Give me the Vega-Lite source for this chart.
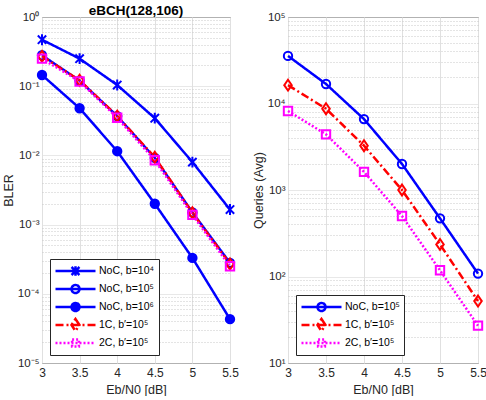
{
  "$schema": "https://vega.github.io/schema/vega-lite/v6.json",
  "background": "white",
  "padding": {"left": 1, "top": 3, "right": 6, "bottom": 0},
  "spacing": 12,
  "config": {
    "font": "Liberation Sans",
    "view": {"stroke": "#262626", "strokeWidth": 1},
    "axis": {
      "labelFont": "Liberation Sans", "labelFontSize": 12, "labelColor": "#262626",
      "titleFont": "Liberation Sans", "titleFontSize": 12.5, "titleFontWeight": "normal", "titleColor": "#262626",
      "ticks": false, "domain": false, "labelPadding": 4, "labelFlush": false, "labelOverlap": false,
      "gridColor": "#e0e0e0", "gridWidth": 1
    },
    "axisY": {"labelFontSize": 11.5, "labelPadding": 3, "titlePadding": 2},
    "legend": {
      "orient": "bottom-left", "offset": 8,
      "labelFont": "Liberation Sans", "labelFontSize": 10.5, "labelColor": "#000000",
      "strokeColor": "#262626", "fillColor": "white", "padding": 4, "rowPadding": 2,
      "symbolStrokeWidth": 2.5, "symbolSize": 1600, "clipHeight": 16, "labelLimit": 300,
      "labelOffset": 2
    },
    "title": {"font": "Liberation Sans", "fontSize": 13.5, "fontWeight": "bold", "color": "#000000", "offset": -6}
  },
  "datasets": {
    "bler": [
      {"snr": 3, "series": "NoC, b=10⁴", "bler": 0.47},
      {"snr": 3.5, "series": "NoC, b=10⁴", "bler": 0.25},
      {"snr": 4, "series": "NoC, b=10⁴", "bler": 0.104},
      {"snr": 4.5, "series": "NoC, b=10⁴", "bler": 0.0345},
      {"snr": 5, "series": "NoC, b=10⁴", "bler": 0.008},
      {"snr": 5.5, "series": "NoC, b=10⁴", "bler": 0.00165},
      {"snr": 3, "series": "NoC, b=10⁵", "bler": 0.28},
      {"snr": 3.5, "series": "NoC, b=10⁵", "bler": 0.12},
      {"snr": 4, "series": "NoC, b=10⁵", "bler": 0.037},
      {"snr": 4.5, "series": "NoC, b=10⁵", "bler": 0.0092},
      {"snr": 5, "series": "NoC, b=10⁵", "bler": 0.0015},
      {"snr": 5.5, "series": "NoC, b=10⁵", "bler": 0.00028},
      {"snr": 3, "series": "NoC, b=10⁶", "bler": 0.145},
      {"snr": 3.5, "series": "NoC, b=10⁶", "bler": 0.048},
      {"snr": 4, "series": "NoC, b=10⁶", "bler": 0.0115},
      {"snr": 4.5, "series": "NoC, b=10⁶", "bler": 0.002},
      {"snr": 5, "series": "NoC, b=10⁶", "bler": 0.00033},
      {"snr": 5.5, "series": "NoC, b=10⁶", "bler": 0.000043},
      {"snr": 3, "series": "1C, b′=10⁵", "bler": 0.27},
      {"snr": 3.5, "series": "1C, b′=10⁵", "bler": 0.122},
      {"snr": 4, "series": "1C, b′=10⁵", "bler": 0.037},
      {"snr": 4.5, "series": "1C, b′=10⁵", "bler": 0.0094},
      {"snr": 5, "series": "1C, b′=10⁵", "bler": 0.00148},
      {"snr": 5.5, "series": "1C, b′=10⁵", "bler": 0.00027},
      {"snr": 3, "series": "2C, b′=10⁵", "bler": 0.25},
      {"snr": 3.5, "series": "2C, b′=10⁵", "bler": 0.117},
      {"snr": 4, "series": "2C, b′=10⁵", "bler": 0.035},
      {"snr": 4.5, "series": "2C, b′=10⁵", "bler": 0.0085},
      {"snr": 5, "series": "2C, b′=10⁵", "bler": 0.00138},
      {"snr": 5.5, "series": "2C, b′=10⁵", "bler": 0.00025}
    ],
    "queries": [
      {"snr": 3, "series": "NoC, b=10⁵", "q": 35500},
      {"snr": 3.5, "series": "NoC, b=10⁵", "q": 16800},
      {"snr": 4, "series": "NoC, b=10⁵", "q": 6600},
      {"snr": 4.5, "series": "NoC, b=10⁵", "q": 2000},
      {"snr": 5, "series": "NoC, b=10⁵", "q": 470},
      {"snr": 5.5, "series": "NoC, b=10⁵", "q": 108},
      {"snr": 3, "series": "1C, b′=10⁵", "q": 16300},
      {"snr": 3.5, "series": "1C, b′=10⁵", "q": 8700},
      {"snr": 4, "series": "1C, b′=10⁵", "q": 3250},
      {"snr": 4.5, "series": "1C, b′=10⁵", "q": 1000},
      {"snr": 5, "series": "1C, b′=10⁵", "q": 235},
      {"snr": 5.5, "series": "1C, b′=10⁵", "q": 52},
      {"snr": 3, "series": "2C, b′=10⁵", "q": 8200},
      {"snr": 3.5, "series": "2C, b′=10⁵", "q": 4400},
      {"snr": 4, "series": "2C, b′=10⁵", "q": 1620},
      {"snr": 4.5, "series": "2C, b′=10⁵", "q": 500},
      {"snr": 5, "series": "2C, b′=10⁵", "q": 118},
      {"snr": 5.5, "series": "2C, b′=10⁵", "q": 27}
    ]
  },
  "resolve": {
    "scale": {"stroke": "independent", "shape": "independent", "fill": "independent", "strokeDash": "independent"},
    "legend": {"stroke": "independent", "shape": "independent", "fill": "independent", "strokeDash": "independent"}
  },
  "hconcat": [
    {
      "title": {"text": "eBCH(128,106)"},
      "width": 188,
      "height": 346,
      "data": {"name": "bler"},
      "encoding": {
        "x": {"field": "snr", "type": "quantitative",
          "scale": {"domain": [3, 5.5], "nice": false, "zero": false},
          "axis": {"values": [3, 3.5, 4, 4.5, 5, 5.5], "labelExpr": "'' + datum.value", "title": "Eb/N0 [dB]", "titlePadding": 5}},
        "y": {"field": "bler", "type": "quantitative",
          "scale": {"type": "log", "domain": [0.00001, 1], "nice": false},
          "axis": {
            "title": "BLER",
            "values": [0.00001,0.00002,0.00003,0.00004,0.00005,0.00006,0.00007,0.00008,0.00009,
                       0.0001,0.0002,0.0003,0.0004,0.0005,0.0006,0.0007,0.0008,0.0009,
                       0.001,0.002,0.003,0.004,0.005,0.006,0.007,0.008,0.009,
                       0.01,0.02,0.03,0.04,0.05,0.06,0.07,0.08,0.09,
                       0.1,0.2,0.3,0.4,0.5,0.6,0.7,0.8,0.9,1],
            "labelExpr": "abs(log(datum.value)/LN10 - round(log(datum.value)/LN10)) < 0.001 ? '10' + ['⁻⁵','⁻⁴','⁻³','⁻²','⁻¹','⁰'][round(log(datum.value)/LN10)+5] : ''",
            "gridDash": {"condition": {"test": "abs(log(datum.value)/LN10 - round(log(datum.value)/LN10)) < 0.001", "value": [1, 0]}, "value": [1, 2]},
            "gridColor": {"condition": {"test": "abs(log(datum.value)/LN10 - round(log(datum.value)/LN10)) < 0.001", "value": "#e0e0e0"}, "value": "#c8c8c8"}
          }}
      },
      "layer": [
        {
          "mark": {"type": "line", "strokeWidth": 2.5},
          "encoding": {
            "stroke": {"field": "series", "type": "nominal",
              "scale": {"domain": ["NoC, b=10⁴", "NoC, b=10⁵", "NoC, b=10⁶", "1C, b′=10⁵", "2C, b′=10⁵"],
                        "range": ["#0000ff", "#0000ff", "#0000ff", "#ff0000", "#ff00ff"]},
              "legend": {"title": null, "encode": {"symbols": {"update": {"shape": {"signal": "indexof(datum.value,'10⁴')>=0 ? 'M-1,0L1,0M-0.2,-0.2L0.2,0.2M-0.2,0.2L0.2,-0.2M0,-0.24L0,0.24' : indexof(datum.value,'1C')>=0 ? 'M-1,0L1,0M0,-0.3L0.2,0L0,0.3L-0.2,0Z' : indexof(datum.value,'2C')>=0 ? 'M-1,0L1,0M-0.17,-0.17L0.17,-0.17L0.17,0.17L-0.17,0.17Z' : 'M-1,0L1,0M-0.2,0A0.2,0.2 0 1,1 0.2,0A0.2,0.2 0 1,1 -0.2,0Z'"}}}}}},
            "strokeDash": {"field": "series", "type": "nominal",
              "scale": {"domain": ["NoC, b=10⁴", "NoC, b=10⁵", "NoC, b=10⁶", "1C, b′=10⁵", "2C, b′=10⁵"],
                        "range": [[1, 0], [1, 0], [1, 0], [8, 3, 2, 3], [2, 2]]},
              "legend": {"title": null}}
          }
        },
        {
          "mark": {"type": "point", "size": 70, "strokeWidth": 2, "opacity": 1, "filled": false},
          "encoding": {
            "stroke": {"field": "series", "type": "nominal", "legend": {"title": null}},
            "shape": {"field": "series", "type": "nominal",
              "scale": {"domain": ["2C, b′=10⁵", "1C, b′=10⁵", "NoC, b=10⁶", "NoC, b=10⁵", "NoC, b=10⁴"],
                        "range": ["square", "M0,-1.3L0.9,0L0,1.3L-0.9,0Z", "circle", "circle", "M-1,-1L1,1M-1,1L1,-1M0,-1.3L0,1.3"]},
              "legend": null},
            "fill": {"field": "series", "type": "nominal",
              "scale": {"domain": ["NoC, b=10⁴", "NoC, b=10⁵", "NoC, b=10⁶", "1C, b′=10⁵", "2C, b′=10⁵"],
                        "range": ["transparent", "transparent", "#0000ff", "transparent", "transparent"]},
              "legend": {"title": null}}
          }
        }
      ]
    },
    {
      "width": 190,
      "height": 346,
      "data": {"name": "queries"},
      "encoding": {
        "x": {"field": "snr", "type": "quantitative",
          "scale": {"domain": [3, 5.5], "nice": false, "zero": false},
          "axis": {"values": [3, 3.5, 4, 4.5, 5, 5.5], "labelExpr": "'' + datum.value", "title": "Eb/N0 [dB]", "titlePadding": 5}},
        "y": {"field": "q", "type": "quantitative",
          "scale": {"type": "log", "domain": [10, 100000], "nice": false},
          "axis": {
            "title": "Queries (Avg)",
            "values": [10,20,30,40,50,60,70,80,90,100,200,300,400,500,600,700,800,900,
                       1000,2000,3000,4000,5000,6000,7000,8000,9000,
                       10000,20000,30000,40000,50000,60000,70000,80000,90000,100000],
            "labelExpr": "abs(log(datum.value)/LN10 - round(log(datum.value)/LN10)) < 0.001 ? '10' + ['¹','²','³','⁴','⁵'][round(log(datum.value)/LN10)-1] : ''",
            "gridDash": {"condition": {"test": "abs(log(datum.value)/LN10 - round(log(datum.value)/LN10)) < 0.001", "value": [1, 0]}, "value": [1, 2]},
            "gridColor": {"condition": {"test": "abs(log(datum.value)/LN10 - round(log(datum.value)/LN10)) < 0.001", "value": "#e0e0e0"}, "value": "#c8c8c8"}
          }}
      },
      "layer": [
        {
          "mark": {"type": "line", "strokeWidth": 2.5},
          "encoding": {
            "stroke": {"field": "series", "type": "nominal",
              "scale": {"domain": ["NoC, b=10⁵", "1C, b′=10⁵", "2C, b′=10⁵"],
                        "range": ["#0000ff", "#ff0000", "#ff00ff"]},
              "legend": {"title": null, "encode": {"symbols": {"update": {"shape": {"signal": "indexof(datum.value,'1C')>=0 ? 'M-1,0L1,0M0,-0.3L0.2,0L0,0.3L-0.2,0Z' : indexof(datum.value,'2C')>=0 ? 'M-1,0L1,0M-0.17,-0.17L0.17,-0.17L0.17,0.17L-0.17,0.17Z' : 'M-1,0L1,0M-0.2,0A0.2,0.2 0 1,1 0.2,0A0.2,0.2 0 1,1 -0.2,0Z'"}}}}}},
            "strokeDash": {"field": "series", "type": "nominal",
              "scale": {"domain": ["NoC, b=10⁵", "1C, b′=10⁵", "2C, b′=10⁵"],
                        "range": [[1, 0], [8, 3, 2, 3], [2, 2]]},
              "legend": {"title": null}}
          }
        },
        {
          "mark": {"type": "point", "size": 70, "strokeWidth": 2, "opacity": 1, "filled": false},
          "encoding": {
            "stroke": {"field": "series", "type": "nominal", "legend": {"title": null}},
            "shape": {"field": "series", "type": "nominal",
              "scale": {"domain": ["2C, b′=10⁵", "1C, b′=10⁵", "NoC, b=10⁵"],
                        "range": ["square", "M0,-1.3L0.9,0L0,1.3L-0.9,0Z", "circle"]},
              "legend": null},
            "fill": {"field": "series", "type": "nominal",
              "scale": {"domain": ["NoC, b=10⁵", "1C, b′=10⁵", "2C, b′=10⁵"],
                        "range": ["transparent", "transparent", "transparent"]},
              "legend": {"title": null}}
          }
        }
      ]
    }
  ]
}
